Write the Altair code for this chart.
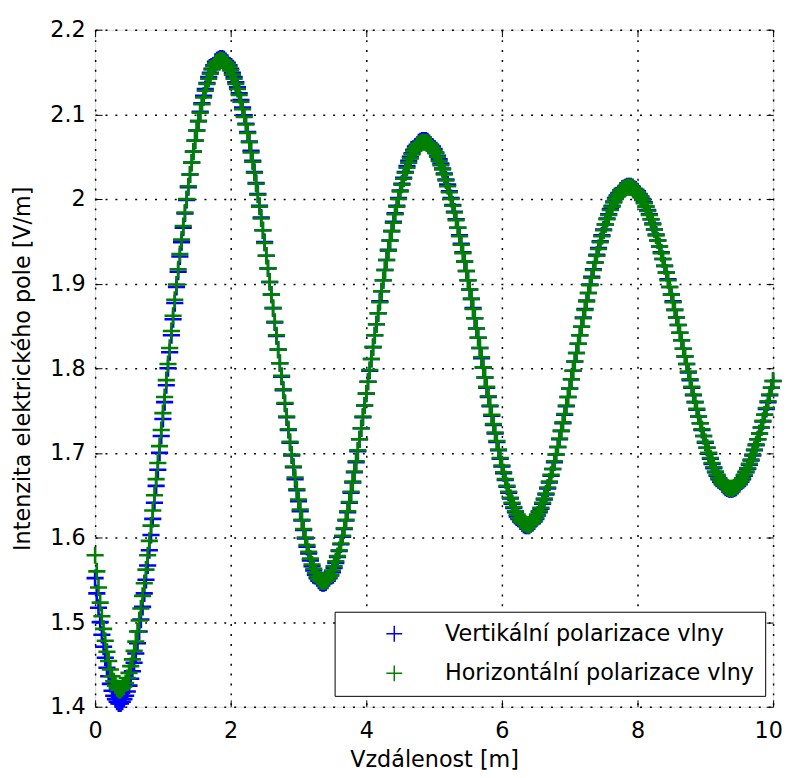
import altair as alt
import pandas as pd

# sampling grid along the distance axis [m]
x_start = 0.0
x_step = 0.025

# Vertikální polarizace vlny (blue), one value every 0.025 m
vert = [
    1.552, 1.534, 1.517, 1.500, 1.485, 1.471, 1.458, 1.446, 1.436, 1.427, 1.419, 1.413, 1.409, 1.406, 1.404,
    1.404, 1.406, 1.409, 1.413, 1.418, 1.425, 1.433, 1.442, 1.452, 1.463, 1.475, 1.489, 1.503, 1.518, 1.534,
    1.550, 1.567, 1.585, 1.603, 1.622, 1.641, 1.661, 1.680, 1.700, 1.720, 1.740, 1.760, 1.780, 1.800, 1.819,
    1.839, 1.858, 1.877, 1.896, 1.914, 1.932, 1.949, 1.966, 1.983, 1.999, 2.014, 2.029, 2.043, 2.056, 2.069,
    2.081, 2.092, 2.103, 2.113, 2.122, 2.130, 2.137, 2.144, 2.149, 2.154, 2.158, 2.162, 2.164, 2.165, 2.166,
    2.166, 2.165, 2.163, 2.161, 2.158, 2.154, 2.149, 2.144, 2.138, 2.132, 2.125, 2.117, 2.108, 2.099, 2.089,
    2.079, 2.068, 2.057, 2.045, 2.032, 2.019, 2.006, 1.992, 1.978, 1.963, 1.949, 1.933, 1.918, 1.902, 1.887,
    1.871, 1.854, 1.838, 1.822, 1.806, 1.790, 1.774, 1.758, 1.742, 1.727, 1.712, 1.697, 1.683, 1.669, 1.656,
    1.643, 1.631, 1.620, 1.609, 1.599, 1.589, 1.581, 1.573, 1.566, 1.561, 1.556, 1.552, 1.549, 1.547, 1.546,
    1.546, 1.547, 1.549, 1.552, 1.555, 1.559, 1.564, 1.570, 1.577, 1.584, 1.592, 1.601, 1.610, 1.620, 1.630,
    1.641, 1.653, 1.665, 1.677, 1.689, 1.702, 1.716, 1.729, 1.742, 1.756, 1.770, 1.784, 1.797, 1.811, 1.825,
    1.839, 1.852, 1.865, 1.879, 1.891, 1.904, 1.916, 1.928, 1.940, 1.951, 1.962, 1.973, 1.983, 1.992, 2.001,
    2.010, 2.018, 2.025, 2.032, 2.039, 2.045, 2.050, 2.054, 2.058, 2.062, 2.064, 2.067, 2.068, 2.069,
    2.069, 2.069, 2.068, 2.066, 2.064, 2.062, 2.059, 2.055, 2.051, 2.047, 2.042, 2.036, 2.030, 2.023, 2.017,
    2.009, 2.001, 1.993, 1.985, 1.976, 1.966, 1.957, 1.947, 1.937, 1.926, 1.915, 1.904, 1.893, 1.882, 1.871,
    1.859, 1.847, 1.836, 1.824, 1.812, 1.801, 1.789, 1.777, 1.766, 1.755, 1.744, 1.733, 1.723, 1.713, 1.703,
    1.693, 1.684, 1.676, 1.668, 1.660, 1.653, 1.646, 1.640, 1.635, 1.630, 1.625, 1.622, 1.619, 1.617, 1.615,
    1.614,
    1.614, 1.614, 1.616, 1.617, 1.619, 1.622, 1.626, 1.630, 1.634, 1.640, 1.645, 1.651, 1.658, 1.665, 1.673,
    1.681, 1.689, 1.698, 1.707, 1.716, 1.726, 1.735, 1.745, 1.755, 1.766, 1.776, 1.787, 1.797, 1.808, 1.818,
    1.829, 1.839, 1.849, 1.860, 1.870, 1.880, 1.889, 1.899, 1.908, 1.917, 1.925, 1.934, 1.942, 1.950, 1.957,
    1.964, 1.970, 1.977, 1.982, 1.988, 1.992, 1.997, 2.001, 2.004, 2.007, 2.010, 2.012, 2.013, 2.014, 2.015,
    2.015, 2.015, 2.014, 2.012, 2.011, 2.009, 2.006, 2.003, 2.000, 1.996, 1.991, 1.987, 1.982, 1.976, 1.971,
    1.964, 1.958, 1.951, 1.944, 1.937, 1.929, 1.921, 1.913, 1.905, 1.896, 1.887, 1.879, 1.869, 1.860, 1.851,
    1.842, 1.833, 1.823, 1.814, 1.805, 1.795, 1.786, 1.777, 1.768, 1.760, 1.751, 1.743, 1.735, 1.727, 1.720,
    1.712, 1.706, 1.699, 1.693, 1.687, 1.682, 1.677, 1.673, 1.669, 1.666, 1.663, 1.661, 1.659, 1.658, 1.657,
    1.657, 1.657, 1.658, 1.659, 1.661, 1.663, 1.666, 1.669, 1.673, 1.677, 1.681, 1.686, 1.691, 1.697, 1.703,
    1.709, 1.716, 1.723, 1.730, 1.737, 1.745, 1.752, 1.760, 1.768, 1.777, 1.785,
]

# Horizontální polarizace vlny (green), one value every 0.025 m
horiz = [
    1.579, 1.560, 1.541, 1.523, 1.507, 1.492, 1.478, 1.465, 1.454, 1.444, 1.436, 1.430, 1.425, 1.422, 1.420,
    1.420, 1.422, 1.424, 1.428, 1.434, 1.440, 1.448, 1.456, 1.466, 1.477, 1.489, 1.502, 1.516, 1.531, 1.546,
    1.562, 1.579, 1.596, 1.614, 1.632, 1.650, 1.669, 1.688, 1.708, 1.727, 1.747, 1.766, 1.786, 1.805, 1.824,
    1.844, 1.862, 1.881, 1.899, 1.917, 1.935, 1.952, 1.968, 1.984, 2.000, 2.015, 2.029, 2.043, 2.056, 2.069,
    2.081, 2.092, 2.102, 2.112, 2.120, 2.128, 2.136, 2.142, 2.148, 2.153, 2.157, 2.160, 2.162, 2.163, 2.164,
    2.164, 2.163, 2.161, 2.159, 2.156, 2.152, 2.147, 2.142, 2.136, 2.130, 2.123, 2.115, 2.106, 2.097, 2.088,
    2.078, 2.067, 2.055, 2.044, 2.031, 2.018, 2.005, 1.991, 1.977, 1.963, 1.948, 1.933, 1.918, 1.902, 1.887,
    1.871, 1.855, 1.839, 1.822, 1.806, 1.791, 1.775, 1.759, 1.743, 1.728, 1.713, 1.698, 1.684, 1.671, 1.657,
    1.645, 1.633, 1.621, 1.610, 1.600, 1.591, 1.583, 1.575, 1.568, 1.563, 1.558, 1.554, 1.551, 1.549, 1.548,
    1.548, 1.549, 1.550, 1.553, 1.556, 1.561, 1.566, 1.572, 1.578, 1.585, 1.593, 1.602, 1.611, 1.621, 1.631,
    1.642, 1.654, 1.666, 1.678, 1.690, 1.703, 1.716, 1.729, 1.743, 1.756, 1.770, 1.784, 1.798, 1.811, 1.825,
    1.839, 1.852, 1.865, 1.878, 1.891, 1.904, 1.916, 1.928, 1.939, 1.951, 1.962, 1.972, 1.982, 1.991, 2.000,
    2.009, 2.017, 2.024, 2.031, 2.037, 2.043, 2.048, 2.053, 2.057, 2.060, 2.063, 2.065, 2.066, 2.067,
    2.067, 2.067, 2.066, 2.065, 2.063, 2.060, 2.057, 2.054, 2.050, 2.045, 2.040, 2.035, 2.029, 2.022, 2.015,
    2.008, 2.000, 1.992, 1.984, 1.975, 1.966, 1.956, 1.946, 1.936, 1.926, 1.915, 1.904, 1.893, 1.882, 1.870,
    1.859, 1.847, 1.836, 1.824, 1.813, 1.801, 1.789, 1.778, 1.767, 1.756, 1.745, 1.734, 1.724, 1.714, 1.704,
    1.694, 1.685, 1.677, 1.669, 1.661, 1.654, 1.647, 1.641, 1.636, 1.631, 1.627, 1.623, 1.620, 1.618, 1.617,
    1.616,
    1.615, 1.615, 1.616, 1.618, 1.620, 1.623, 1.627, 1.631, 1.635, 1.641, 1.646, 1.652, 1.659, 1.666, 1.674,
    1.681, 1.690, 1.698, 1.707, 1.717, 1.726, 1.736, 1.746, 1.756, 1.766, 1.776, 1.787, 1.797, 1.808, 1.818,
    1.829, 1.839, 1.849, 1.859, 1.869, 1.879, 1.889, 1.898, 1.907, 1.916, 1.925, 1.933, 1.941, 1.949, 1.956,
    1.963, 1.970, 1.976, 1.981, 1.987, 1.991, 1.996, 2.000, 2.003, 2.006, 2.009, 2.011, 2.012, 2.013, 2.014,
    2.014, 2.014, 2.013, 2.011, 2.010, 2.008, 2.005, 2.002, 1.999, 1.995, 1.991, 1.986, 1.981, 1.976, 1.970,
    1.964, 1.957, 1.951, 1.944, 1.936, 1.929, 1.921, 1.913, 1.904, 1.896, 1.887, 1.878, 1.869, 1.860, 1.851,
    1.842, 1.833, 1.823, 1.814, 1.805, 1.796, 1.787, 1.778, 1.769, 1.760, 1.752, 1.743, 1.735, 1.728, 1.720,
    1.713, 1.706, 1.700, 1.694, 1.688, 1.683, 1.678, 1.674, 1.670, 1.667, 1.664, 1.662, 1.660, 1.659, 1.658,
    1.658, 1.658, 1.659, 1.660, 1.662, 1.664, 1.667, 1.670, 1.674, 1.678, 1.682, 1.687, 1.692, 1.698, 1.704,
    1.710, 1.716, 1.723, 1.730, 1.738, 1.745, 1.753, 1.761, 1.769, 1.777, 1.785,
]

series_names = ["Vertikální polarizace vlny", "Horizontální polarizace vlny"]
series_colors = ["#0000ff", "#008000"]

x_ticks = [0, 2, 4, 6, 8, 10]
y_ticks = [1.4, 1.5, 1.6, 1.7, 1.8, 1.9, 2.0, 2.1, 2.2]

rows = []
for k, (name, vals) in enumerate(zip(series_names, [vert, horiz])):
    for i, v in enumerate(vals):
        rows.append({"x": round(x_start + i * x_step, 4), "y": v, "series": name, "k": k})
df = pd.DataFrame(rows)

FONT = "DejaVu Sans"
FS = 22.5
PLUS = "M-1,0L1,0M0,-1L0,1"

xscale = alt.Scale(domain=[0, 10], nice=False, zero=False)
yscale = alt.Scale(domain=[1.4, 2.2], nice=False, zero=False)

# keep the last x label ("10") inside the window
x_label_offset = {"condition": {"test": "datum.value == 10", "value": -5}, "value": 0}

points = alt.Chart(df).mark_point(
    shape=PLUS, filled=False, size=300, strokeWidth=2.6, opacity=1
).encode(
    x=alt.X("x:Q", scale=xscale, axis=alt.Axis(
        orient="bottom", values=x_ticks, format="d", title="Vzdálenost [m]",
        grid=True, gridColor="black", gridDash=[2, 8], gridWidth=1.5, gridOpacity=1,
        domain=False, ticks=True, tickSize=7, tickColor="black", tickWidth=1, offset=-7,
        labelFont=FONT, labelFontSize=FS, labelColor="black", labelPadding=13,
        labelFlush=False, labelOverlap=False, labelOffset=x_label_offset,
        titleFont=FONT, titleFontSize=FS, titleFontWeight="normal", titleColor="black",
        titlePadding=7)),
    y=alt.Y("y:Q", scale=yscale, axis=alt.Axis(
        orient="left", values=y_ticks, format="~g", title="Intenzita elektrického pole [V/m]",
        grid=True, gridColor="black", gridDash=[2, 8], gridWidth=1.5, gridOpacity=1,
        domain=False, ticks=True, tickSize=7, tickColor="black", tickWidth=1, offset=-7,
        labelFont=FONT, labelFontSize=FS, labelColor="black", labelPadding=10,
        labelOverlap=False,
        titleFont=FONT, titleFontSize=FS, titleFontWeight="normal", titleColor="black",
        titlePadding=15)),
    color=alt.Color("series:N", scale=alt.Scale(domain=series_names, range=series_colors),
                    legend=alt.Legend(
                        title=None, orient="none", legendX=242, legendY=588,
                        direction="vertical", strokeColor="black", fillColor="white",
                        padding=11, rowPadding=17, cornerRadius=0,
                        symbolType=PLUS, symbolSize=256, symbolStrokeWidth=1.5,
                        symbolOffset=38, labelOffset=40,
                        labelFont=FONT, labelFontSize=FS, labelColor="black", labelLimit=0)),
    order=alt.Order("k:Q"),
)

frame_ticks = alt.Chart(df).mark_point(opacity=0).encode(
    x=alt.X("x:Q", scale=xscale, axis=alt.Axis(
        orient="top", values=x_ticks, labels=False, title=None, grid=False, domain=False,
        ticks=True, tickSize=7, tickColor="black", tickWidth=1, offset=-7)),
    y=alt.Y("y:Q", scale=yscale, axis=alt.Axis(
        orient="right", values=y_ticks, labels=False, title=None, grid=False, domain=False,
        ticks=True, tickSize=7, tickColor="black", tickWidth=1, offset=-7)),
)

chart = alt.layer(points, frame_ticks).resolve_axis(
    x="independent", y="independent"
).properties(
    width=685, height=684,
    padding={"left": 88, "top": 18, "right": 10, "bottom": 66},
    autosize=alt.AutoSizeParams(type="none"),
).configure_view(
    stroke="black", strokeWidth=1.5, fill="white"
).configure(background="white")

chart.save("out.html", embed_options={"renderer": "svg", "actions": False})
